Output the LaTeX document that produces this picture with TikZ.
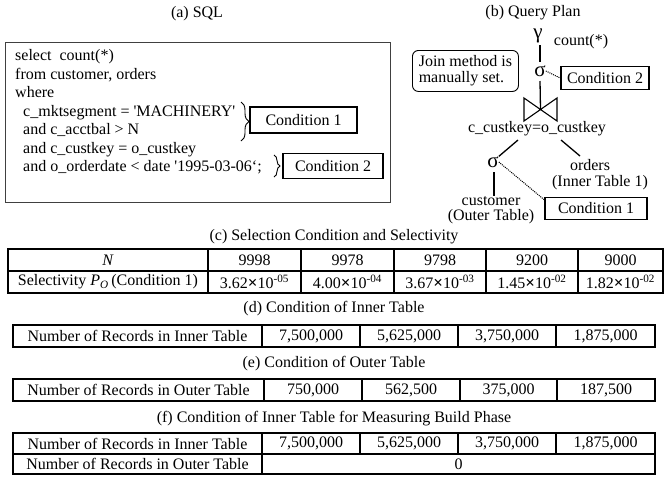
\documentclass[tikz,border=0pt]{standalone}
\usepackage{fontspec}
\setmainfont{Liberation Serif}
\usetikzlibrary{decorations.pathreplacing}
\newcommand{\tms}{{\bfseries\fontsize{17}{17}\selectfont ×}}
\begin{document}
\begin{tikzpicture}[x=1pt,y=-1pt,
  every node/.style={font=\fontsize{16}{16}\selectfont, inner sep=0pt},
  greek/.style={font=\fontsize{21}{21}\selectfont},
  condbox/.style={draw, line width=1.6pt, minimum height=23pt},
  sqlframe/.style={draw=black!75, line width=0.9pt},
  tab/.style={line width=1.3pt},
  edge/.style={line width=1.3pt},
  dotline/.style={densely dotted, line width=1pt},
  bracestyle/.style={line width=0.9pt, decorate, decoration={brace, amplitude=6pt}},
  sqlline/.style={anchor=base west}]
\useasboundingbox (0,0) rectangle (668,483);

% ---------- titles ----------
\node (ta) at (197,14) {(a) SQL};
\node (tb) at (533,13) {(b) Query Plan};

% ---------- (a) SQL text ----------
\node[sqlframe, anchor=north west, minimum width=385pt, minimum height=160pt] (sqlbox) at (5,42) {};
\node[sqlline] (l1) at (15,60.5) {select~ count(*)};
\node[sqlline] (l2) at (15,79) {from customer, orders};
\node[sqlline] (l3) at (15,97.5) {where};
\node[sqlline] (l4) at (23,116) {c\_mktsegment = \textquotesingle MACHINERY\textquotesingle};
\node[sqlline] (l5) at (23,134.5) {and c\_acctbal > N};
\node[sqlline] (l6) at (23,153) {and c\_custkey = o\_custkey};
\node[sqlline] (l7) at (23,171.5) {and o\_orderdate < date \textquotesingle 1995-03-06`;};

\coordinate (b1t) at (241,102);
\coordinate (b1b) at (241,141);
\draw[bracestyle, decoration={amplitude=8pt}] (b1t) -- (b1b);
\coordinate (b2t) at (274,155);
\coordinate (b2b) at (274,177);
\draw[bracestyle] (b2t) -- (b2b);

\node[condbox, minimum width=107pt, minimum height=26pt] (c1a) at (303.5,120) {Condition 1};
\node[condbox, minimum width=100pt, minimum height=25pt] (c2a) at (333,166) {Condition 2};

% ---------- (b) query plan ----------
\node[greek] (gam) at (538,36) {γ};
\node (cnt) at (581,42) {count(*)};
\node[greek] (sig1) at (540,71) {σ};
\node[condbox, minimum width=88pt] (c2b) at (605,78) {Condition 2};
\node[draw, line width=0.9pt, rounded corners=6pt, align=left, anchor=north west,
      minimum width=106pt, minimum height=41pt, inner xsep=5pt] (jm) at (412,50)
      {Join method is\\manually set.};

\coordinate (bwNW) at (524,98);
\coordinate (bwSW) at (524,121);
\coordinate (bwNE) at (557,98);
\coordinate (bwSE) at (557,121);
\coordinate (bw) at (540.5,109.5);
\draw[line width=1.1pt, line join=miter] (bwNW) -- (bwSW) -- (bwNE) -- (bwSE) -- cycle;

\node (key) at (537,129) {c\_custkey=o\_custkey};
\node[greek] (sig2) at (493,162) {σ};
\node (ord) at (590,165) {orders};
\node (ordi) at (600,182.5) {(Inner Table 1)};
\node[align=center, font=\fontsize{16}{15}\selectfont, anchor=north] (cus) at (491,196) {customer\\(Outer Table)};
\node[condbox, minimum width=102pt, minimum height=22pt] (c1b) at (596,208.5) {Condition 1};

\coordinate (kl) at (518,140);
\coordinate (kr) at (561,140);
\coordinate (ordtip) at (580,156);
\coordinate (gbot) at (540,45);
\draw[edge] (gbot) -- (540,62);
\draw[edge] (540,81) -- (bw);
\draw[edge] (kl) -- (sig2.north east);
\draw[edge] (kr) -- (ordtip);
\draw[edge] (494,172) -- (cus.north -| 494,0);
\draw[dotline] (sig1.east) -- (c2b.west);
\draw[dotline] (sig2.east) -- ([yshift=-3pt]c1b.north west);

% ---------- (c) selection condition and selectivity ----------
\node (tc) at (334,237) {(c) Selection Condition and Selectivity};
\draw[tab] (8,249) rectangle (663,293);
\draw[tab] (8,271) -- (663,271);
\foreach \x in {208,301,394,486,578} \draw[tab] (\x,249) -- (\x,293);
\node (cN) at (108,260) {\textit{N}};
\node (cS) at (108,282) {Selectivity \textit{P}\textsubscript{\textit{O}}\,(Condition 1)};
\node (cn1) at (254.5,260) {9998};
\node (cn2) at (347.5,260) {9978};
\node (cn3) at (440,260) {9798};
\node (cn4) at (532,260) {9200};
\node (cn5) at (620.5,260) {9000};
\node (cs1) at (254.5,282) {3.62\tms 10\textsuperscript{-05}};
\node (cs2) at (347.5,282) {4.00\tms 10\textsuperscript{-04}};
\node (cs3) at (440,282) {3.67\tms 10\textsuperscript{-03}};
\node (cs4) at (532,282) {1.45\tms 10\textsuperscript{-02}};
\node (cs5) at (620.5,282) {1.82\tms 10\textsuperscript{-02}};

% ---------- (d) inner table ----------
\node (td) at (334,309) {(d) Condition of Inner Table};
\draw[tab] (13,325) rectangle (655,347);
\foreach \x in {262,360,458,556} \draw[tab] (\x,325) -- (\x,347);
\node (dh) at (137.5,336) {Number of Records in Inner Table};
\node (d1) at (311,336) {7,500,000};
\node (d2) at (409,336) {5,625,000};
\node (d3) at (507,336) {3,750,000};
\node (d4) at (605.5,336) {1,875,000};

% ---------- (e) outer table ----------
\node (te) at (334,364) {(e) Condition of Outer Table};
\draw[tab] (13,379) rectangle (655,401);
\foreach \x in {264,362,460,557} \draw[tab] (\x,379) -- (\x,401);
\node (eh) at (138.5,390) {Number of Records in Outer Table};
\node (e1) at (313,390) {750,000};
\node (e2) at (411,390) {562,500};
\node (e3) at (508.5,390) {375,000};
\node (e4) at (606,390) {187,500};

% ---------- (f) build phase ----------
\node (tf) at (334,419) {(f) Condition of Inner Table for Measuring Build Phase};
\draw[tab] (13,433) rectangle (655,474);
\draw[tab] (13,454) -- (655,454);
\draw[tab] (262,433) -- (262,474);
\foreach \x in {360,458,556} \draw[tab] (\x,433) -- (\x,454);
\node (fh1) at (137.5,443.5) {Number of Records in Inner Table};
\node (fh2) at (137.5,464) {Number of Records in Outer Table};
\node (f1) at (311,443.5) {7,500,000};
\node (f2) at (409,443.5) {5,625,000};
\node (f3) at (507,443.5) {3,750,000};
\node (f4) at (605.5,443.5) {1,875,000};
\node (f0) at (458.5,464) {0};
\end{tikzpicture}
\end{document}
